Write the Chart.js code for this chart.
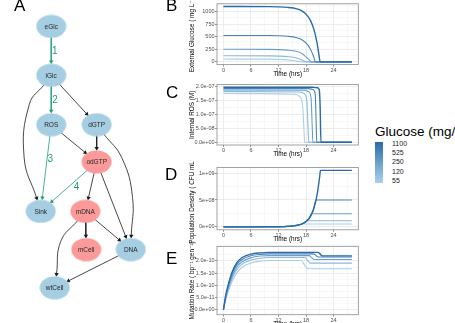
<!DOCTYPE html>
<html>
<head>
<meta charset="utf-8">
<script src="https://cdn.jsdelivr.net/npm/chart.js"></script>
<style>
  body { margin: 0; width: 455px; height: 323px; overflow: hidden; background: #fff; position: relative;
         font-family: "Liberation Sans", Arial, sans-serif; }
  canvas { position: absolute; }
  .tag { position: absolute; font-size: 17px; line-height: 1; color: #000; }
  #legend-title { position: absolute; left: 375px; top: 124px; font-size: 13.5px; white-space: nowrap; color: #000; }
  #legend-bar { position: absolute; left: 375px; top: 142px; width: 8px; height: 41px; }
  .legend-lab { position: absolute; left: 392px; font-size: 7px; line-height: 1; color: #222; }
</style>
</head>
<body>
<canvas id="net" width="175" height="323" style="left:0;top:0"></canvas>
<canvas id="panelB" width="180" height="79" style="left:180px;top:0"></canvas>
<canvas id="panelC" width="180" height="79" style="left:180px;top:80px"></canvas>
<canvas id="panelD" width="180" height="84" style="left:180px;top:160px"></canvas>
<canvas id="panelE" width="180" height="89" style="left:180px;top:240px"></canvas>

<div class="tag" style="left:14px;top:-3px">A</div>
<div class="tag" style="left:166px;top:-3px">B</div>
<div class="tag" style="left:166px;top:84px">C</div>
<div class="tag" style="left:165px;top:166px">D</div>
<div class="tag" style="left:166px;top:250px">E</div>

<div id="legend-title">Glucose (mg/L)</div>
<div id="legend-bar"></div>
<div id="legend-labels"></div>

<script>
// ---- network (panel A) ----
const nodeNames = ['eGlc', 'iGlc', 'ROS', 'dGTP', 'odGTP', 'Sink', 'mDNA', 'mCell', 'DNA', 'wtCell'];
const nodeX = [46, 46, 46, 98, 98, 34, 85, 86, 137, 50];
const nodeY = [16.5, 69, 122, 122, 162, 215, 215, 256, 256, 297];
const nodeRed = [false, false, false, false, true, false, true, true, false, false];

const edgeFrom = ['eGlc', 'iGlc', 'iGlc', 'iGlc', 'ROS', 'ROS', 'dGTP', 'dGTP', 'odGTP', 'odGTP', 'odGTP', 'mDNA', 'mDNA', 'mDNA', 'DNA'];
const edgeTo = ['iGlc', 'ROS', 'dGTP', 'Sink', 'Sink', 'odGTP', 'odGTP', 'DNA', 'Sink', 'mDNA', 'DNA', 'mCell', 'DNA', 'wtCell', 'wtCell'];
const edgeGreen = [true, true, false, false, true, false, false, false, true, false, false, false, false, false, false];
const edgeVia = [null, null, null, [[21, 100], [15, 157]], null, null, null, [[127, 158], [139, 200]], null, null, null, null, null, [[57, 247]], null];

const reactionLabels = ['1', '2', '3', '4'];
const reactionX = [50, 50.5, 45, 75];
const reactionY = [42.7, 95.8, 159, 188.7];

// ---- time courses (panels B-E) ----
const glucoseLevels = [1100, 525, 250, 120, 55];
const hourMajor = [0, 6, 12, 18, 24];
const hourMinor = [3, 9, 15, 21, 27];

const extGlucose = [
  [[0, 1100], [10, 1098], [12, 1094], [14, 1083], [16, 1055], [17, 1020], [18, 950], [19, 820], [19.8, 620], [20.4, 380], [20.8, 150], [21.1, 0], [28, 0]],
  [[0, 525], [10, 523], [12, 519], [14, 508], [16, 480], [17, 445], [18, 375], [19, 245], [19.6, 120], [20.1, 0], [28, 0]],
  [[0, 250], [10, 248], [12, 244], [14, 233], [16, 205], [17, 170], [18, 100], [18.8, 30], [19.2, 0], [28, 0]],
  [[0, 120], [10, 118], [12, 114], [14, 103], [16, 75], [17, 40], [17.8, 8], [18.3, 0], [28, 0]],
  [[0, 55], [10, 53], [12, 49], [14, 39], [16, 15], [16.8, 3], [17.3, 0], [28, 0]]
];
const glucoseTicks = [0, 250, 500, 750, 1000];
const glucoseTickLabels = ['0', '250', '500', '750', '1000'];

const intROS = [
  [[0, 1.98e-7], [19.5, 1.98e-7], [20.5, 1.96e-7], [20.9, 1.88e-7], [21.1, 1.2e-7], [21.25, 0], [28, 0]],
  [[0, 1.93e-7], [18.5, 1.93e-7], [19.5, 1.9e-7], [20.0, 1.75e-7], [20.2, 0.8e-7], [20.35, 0], [28, 0]],
  [[0, 1.88e-7], [17.5, 1.87e-7], [18.6, 1.82e-7], [19.1, 1.6e-7], [19.35, 0.6e-7], [19.5, 0], [28, 0]],
  [[0, 1.83e-7], [16.5, 1.81e-7], [17.7, 1.74e-7], [18.2, 1.45e-7], [18.45, 0.5e-7], [18.6, 0], [28, 0]],
  [[0, 1.76e-7], [15.5, 1.73e-7], [16.7, 1.62e-7], [17.3, 1.25e-7], [17.6, 0.3e-7], [17.7, 0], [28, 0]]
];
const rosTicks = [0, 5e-8, 1e-7, 1.5e-7, 2e-7];
const rosTickLabels = ['0.0e+00', '5.0e-08', '1.0e-07', '1.5e-07', '2.0e-07'];

const popDensity = [
  [[0, 1e6], [10, 3e6], [12, 5e6], [14, 1.1e7], [15, 1.8e7], [16, 3.0e7], [17, 5.2e7], [18, 1.0e8], [19, 2.0e8], [20, 4.3e8], [20.5, 6.4e8], [21, 9.5e8], [21.15, 1.05e9], [28, 1.05e9]],
  [[0, 1e6], [10, 3e6], [12, 5e6], [14, 1.1e7], [15, 1.8e7], [16, 3.0e7], [17, 5.2e7], [18, 1.0e8], [19, 2.0e8], [19.6, 3.1e8], [20.15, 5.0e8], [28, 5.0e8]],
  [[0, 1e6], [10, 3e6], [12, 5e6], [14, 1.1e7], [15, 1.8e7], [16, 3.0e7], [17, 5.2e7], [18, 1.0e8], [18.6, 1.5e8], [19.2, 2.45e8], [28, 2.45e8]],
  [[0, 1e6], [10, 3e6], [12, 5e6], [14, 1.1e7], [15, 1.8e7], [16, 3.0e7], [17, 5.2e7], [17.6, 7.5e7], [18.15, 1.15e8], [28, 1.15e8]],
  [[0, 1e6], [10, 3e6], [12, 5e6], [14, 1.1e7], [15, 1.8e7], [16, 3.0e7], [16.6, 4.1e7], [17.1, 5.5e7], [28, 5.5e7]]
];
const popTicks = [0, 5e8, 1e9];
const popTickLabels = ['0e+00', '5e+08', '1e+09'];

const mutRate = [
  [[0, 0], [0.5, 0.6e-10], [1, 1.0e-10], [2, 1.6e-10], [3, 1.95e-10], [4, 2.13e-10], [6, 2.28e-10], [8, 2.33e-10], [10, 2.35e-10], [20.6, 2.35e-10], [21.0, 2.3e-10], [21.4, 2.22e-10], [21.8, 2.21e-10], [28, 2.21e-10]],
  [[0, 0], [0.5, 0.55e-10], [1, 0.95e-10], [2, 1.52e-10], [3, 1.87e-10], [4, 2.05e-10], [6, 2.21e-10], [8, 2.27e-10], [10, 2.29e-10], [19.6, 2.29e-10], [20.1, 2.24e-10], [20.5, 2.17e-10], [21, 2.16e-10], [28, 2.16e-10]],
  [[0, 0], [0.5, 0.5e-10], [1, 0.88e-10], [2, 1.42e-10], [3, 1.77e-10], [4, 1.96e-10], [6, 2.13e-10], [8, 2.2e-10], [10, 2.22e-10], [18.7, 2.22e-10], [19.2, 2.14e-10], [19.6, 2.07e-10], [20.1, 2.06e-10], [28, 2.06e-10]],
  [[0, 0], [0.5, 0.45e-10], [1, 0.8e-10], [2, 1.32e-10], [3, 1.66e-10], [4, 1.86e-10], [6, 2.04e-10], [8, 2.11e-10], [10, 2.14e-10], [17.8, 2.14e-10], [18.3, 2.02e-10], [18.8, 1.93e-10], [19.3, 1.91e-10], [28, 1.91e-10]],
  [[0, 0], [0.5, 0.4e-10], [1, 0.72e-10], [2, 1.2e-10], [3, 1.53e-10], [4, 1.73e-10], [6, 1.92e-10], [8, 1.99e-10], [10, 2.02e-10], [17.0, 2.02e-10], [17.6, 1.85e-10], [18.2, 1.71e-10], [18.7, 1.68e-10], [28, 1.68e-10]]
];
const mutTicks = [0, 5e-11, 1e-10, 1.5e-10, 2e-10];
const mutTickLabels = ['0.0e+00', '5.0e-11', '1.0e-10', '1.5e-10', '2.0e-10'];

const lineColors = ['#2a6aa6', '#4984bb', '#6a9fcd', '#8bb9dd', '#accfe9'];
const fontFamily = "'Liberation Sans', 'DejaVu Sans', Arial, sans-serif";
const nodeBlue = '#a6cee3';
const nodeRose = '#fb9a99';
const green = '#1f9e78';

// ---------- panel A ----------
const RX = 15, RY = 11.5, ARROW = 2.5;

function ellipseImage(color) {
  const c = document.createElement('canvas');
  c.width = 2 * RX + 1;
  c.height = 2 * RY + 1;
  const g = c.getContext('2d');
  g.fillStyle = color;
  g.beginPath();
  g.ellipse(c.width / 2, c.height / 2, RX, RY, 0, 0, Math.PI * 2);
  g.fill();
  return c;
}
const blueImg = ellipseImage(nodeBlue);
const roseImg = ellipseImage(nodeRose);

function boundary(i, tx, ty, gap) {
  const dx = tx - nodeX[i], dy = ty - nodeY[i];
  const L = Math.hypot(dx, dy);
  const ux = dx / L, uy = dy / L;
  const t = 1 / Math.sqrt((ux / RX) ** 2 + (uy / RY) ** 2) + gap;
  return [nodeX[i] + ux * t, nodeY[i] + uy * t];
}

const edgeSets = edgeFrom.map((from, k) => {
  const a = nodeNames.indexOf(from), b = nodeNames.indexOf(edgeTo[k]);
  const via = edgeVia[k] || [];
  const first = via.length ? via[0] : [nodeX[b], nodeY[b]];
  const last = via.length ? via[via.length - 1] : [nodeX[a], nodeY[a]];
  const start = boundary(a, first[0], first[1], 0);
  const tip = boundary(b, last[0], last[1], 0.6);
  const dx = tip[0] - last[0], dy = tip[1] - last[1];
  const L = Math.hypot(dx, dy);
  const head = [tip[0] - dx / L * ARROW, tip[1] - dy / L * ARROW];
  const pts = [start].concat(via, [head]);
  const col = edgeGreen[k] ? green : '#1a1a1a';
  return {
    data: pts.map(p => ({x: p[0], y: p[1]})),
    showLine: true,
    borderColor: col,
    borderWidth: 0.8,
    tension: via.length ? 0.45 : 0,
    pointStyle: 'triangle',
    pointRadius: pts.map((p, i) => i === pts.length - 1 ? ARROW : 0),
    pointRotation: pts.map(() => Math.atan2(dx, -dy) * 180 / Math.PI),
    pointBackgroundColor: col,
    pointBorderWidth: 0
  };
});

const nodeSet = {
  data: nodeNames.map((n, i) => ({x: nodeX[i], y: nodeY[i]})),
  showLine: false,
  pointRadius: 10,
  pointStyle: nodeRed.map(r => r ? roseImg : blueImg)
};

const netLabels = {
  id: 'netLabels',
  afterDatasetsDraw(chart) {
    const ctx = chart.ctx, sx = chart.scales.x, sy = chart.scales.y;
    ctx.save();
    ctx.textAlign = 'center';
    ctx.textBaseline = 'middle';
    ctx.fillStyle = '#262626';
    ctx.font = "6.5px " + fontFamily;
    nodeNames.forEach((n, i) => ctx.fillText(n, sx.getPixelForValue(nodeX[i]), sy.getPixelForValue(nodeY[i]) + 0.5));
    ctx.fillStyle = green;
    ctx.font = "10px " + fontFamily;
    reactionLabels.forEach((t, i) => ctx.fillText(t, sx.getPixelForValue(reactionX[i]), sy.getPixelForValue(reactionY[i])));
    ctx.restore();
  }
};

new Chart(document.getElementById('net'), {
  type: 'scatter',
  data: {datasets: [nodeSet].concat(edgeSets)},
  options: {
    responsive: false,
    animation: false,
    events: [],
    layout: {padding: 0},
    plugins: {legend: {display: false}, tooltip: {enabled: false}},
    scales: {
      x: {type: 'linear', min: 0, max: 175, display: false},
      y: {type: 'linear', min: 0, max: 323, reverse: true, display: false}
    }
  },
  plugins: [netLabels]
});

// ---------- panels B-E ----------
const framePlugin = {
  id: 'frame',
  afterDatasetsDraw(chart) {
    const a = chart.chartArea, c = chart.ctx;
    c.save();
    c.strokeStyle = '#8c8c8c';
    c.lineWidth = 0.8;
    c.strokeRect(a.left, a.top, a.right - a.left, a.bottom - a.top);
    c.restore();
  }
};

function drawPanel(id, series, yMajor, yLabels, yMin, yMax, yTitle, padTop, xHeight) {
  const step = yMajor[1] - yMajor[0];
  const yMinor = yMajor.map(v => v + step / 2).filter(v => v < yMax);
  const yAll = yMajor.concat(yMinor).sort((a, b) => a - b);
  const xAll = hourMajor.concat(hourMinor).sort((a, b) => a - b);
  const isMajorY = v => yMajor.some(m => Math.abs(m - v) < step / 100);
  const tickFont = {family: fontFamily, size: 5.5};
  const titleFont = {family: fontFamily, size: 6.4, lineHeight: 1.2};

  new Chart(document.getElementById(id), {
    type: 'line',
    data: {
      datasets: series.map((pts, i) => ({
        label: String(glucoseLevels[i]),
        data: pts.map(p => ({x: p[0], y: p[1]})),
        borderColor: lineColors[i],
        borderWidth: i === 0 ? 1.4 : 1.1,
        pointRadius: 0,
        cubicInterpolationMode: 'monotone',
        fill: false
      }))
    },
    options: {
      responsive: false,
      animation: false,
      events: [],
      layout: {padding: {top: padTop, right: 1.7, left: 0, bottom: 0}},
      plugins: {legend: {display: false}, tooltip: {enabled: false}},
      scales: {
        x: {
          type: 'linear', min: -1.4, max: 29.4,
          afterBuildTicks: s => { s.ticks = xAll.map(v => ({value: v})); },
          afterFit: s => { s.height = xHeight; },
          ticks: {callback: v => hourMajor.includes(v) ? String(v) : '', font: tickFont, color: '#4d4d4d',
                  padding: 0.5, maxRotation: 0, autoSkip: false},
          grid: {
            color: c => hourMajor.includes(c.tick.value) ? '#e8e8e8' : '#f3f3f3',
            lineWidth: c => hourMajor.includes(c.tick.value) ? 0.8 : 0.6,
            tickLength: 2,
            tickColor: c => hourMajor.includes(c.tick.value) ? '#444' : 'rgba(0,0,0,0)',
            tickWidth: 0.6
          },
          border: {display: false},
          title: {display: true, text: 'Time (hrs)', font: titleFont, color: '#000', padding: {top: 0, bottom: 0.5}}
        },
        y: {
          type: 'linear', min: yMin, max: yMax,
          afterBuildTicks: s => { s.ticks = yAll.map(v => ({value: v})); },
          afterFit: s => { s.width = 37; },
          ticks: {callback: v => isMajorY(v) ? yLabels[yMajor.findIndex(m => Math.abs(m - v) < step / 100)] : '',
                  font: tickFont, color: '#4d4d4d', padding: 0.5, autoSkip: false},
          grid: {
            color: c => isMajorY(c.tick.value) ? '#e8e8e8' : '#f3f3f3',
            lineWidth: c => isMajorY(c.tick.value) ? 0.8 : 0.6,
            tickLength: 2,
            tickColor: c => isMajorY(c.tick.value) ? '#444' : 'rgba(0,0,0,0)',
            tickWidth: 0.6
          },
          border: {display: false},
          title: {display: true, text: yTitle, font: titleFont, color: '#000', padding: {top: 8.6, bottom: 0}}
        }
      }
    },
    plugins: [framePlugin]
  });
}

drawPanel('panelB', extGlucose, glucoseTicks, glucoseTickLabels, -55, 1155, 'External Glucose ( mg L\u207B\u00B9)', 1, 14.4);
drawPanel('panelC', intROS, rosTicks, rosTickLabels, -0.099e-7, 2.079e-7, 'Internal ROS (M)', 4.5, 14);
drawPanel('panelD', popDensity, popTicks, popTickLabels, -0.0525e9, 1.1025e9, 'Population Density ( CFU mL\u207B\u00B9)', 7.5, 14.2);
drawPanel('panelE', mutRate, mutTicks, mutTickLabels, -0.2e-10, 2.6e-10, 'Mutation Rate ( bp\u207B\u00B9 gen\u207B\u00B9)', 6.3, 14.3);

// ---------- legend ----------
document.getElementById('legend-bar').style.background =
  'linear-gradient(to bottom, ' + lineColors.join(', ') + ')';
const legendLabelY = [143.3, 152.7, 161.7, 171.7, 180.7];
const labBox = document.getElementById('legend-labels');
glucoseLevels.forEach((g, i) => {
  const d = document.createElement('div');
  d.className = 'legend-lab';
  d.style.top = (legendLabelY[i] - 3.5) + 'px';
  d.textContent = g;
  labBox.appendChild(d);
});
</script>
</body>
</html>
